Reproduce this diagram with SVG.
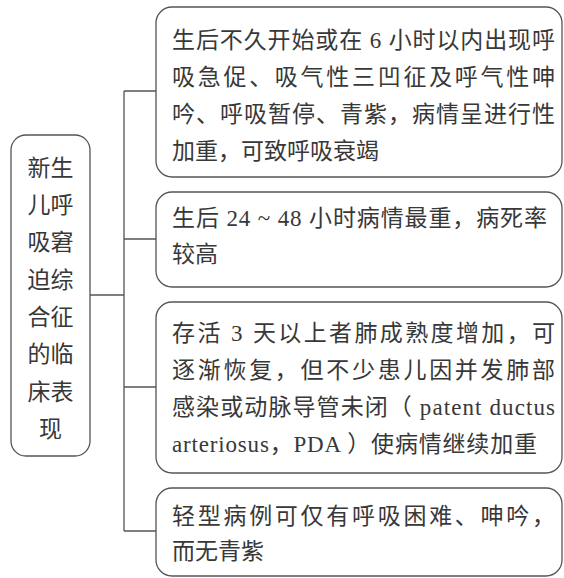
<svg xmlns="http://www.w3.org/2000/svg" width="564" height="578" viewBox="0 0 564 578">
<style>
.box{fill:#ffffff;stroke:#555555;stroke-width:1.3}
.ln{fill:none;stroke:#555555;stroke-width:1.3}
text{font-family:"Liberation Serif","Noto Sans CJK SC",serif;font-size:23px;fill:#383838}
.c{text-anchor:middle}
</style>
<rect width="564" height="578" fill="#ffffff"/>
<g id="connectors">
<path class="ln" d="M90,295 H124 M124,91 V531 M124,91 H156 M124,239 H156 M124,387 H156 M124,531 H156"/>
</g>
<g id="root">
<rect class="box" x="11" y="135" width="79" height="321" rx="15"/>
<text class="c" x="50.5" y="176">新生</text>
<text class="c" x="50.5" y="213">儿呼</text>
<text class="c" x="50.5" y="250">吸窘</text>
<text class="c" x="50.5" y="288">迫综</text>
<text class="c" x="50.5" y="325">合征</text>
<text class="c" x="50.5" y="362">的临</text>
<text class="c" x="50.5" y="400">床表</text>
<text class="c" x="50.5" y="437">现</text>
</g>
<g id="node1">
<rect class="box" x="156" y="7" width="406" height="170" rx="16"/>
<text x="172" y="48" textLength="383" lengthAdjust="spacing">生后不久开始或在 6 小时以内出现呼</text>
<text x="172" y="85" textLength="383" lengthAdjust="spacing">吸急促、吸气性三凹征及呼气性呻</text>
<text x="172" y="122" textLength="383" lengthAdjust="spacing">吟、呼吸暂停、青紫，病情呈进行性</text>
<text x="172" y="159">加重，可致呼吸衰竭</text>
</g>
<g id="node2">
<rect class="box" x="156" y="192" width="406" height="95" rx="16"/>
<text x="172" y="226" textLength="375" lengthAdjust="spacing">生后 24 ~ 48 小时病情最重，病死率</text>
<text x="172" y="262">较高</text>
</g>
<g id="node3">
<rect class="box" x="156" y="302" width="406" height="171" rx="16"/>
<text x="172" y="341" textLength="383" lengthAdjust="spacing">存活 3 天以上者肺成熟度增加，可</text>
<text x="172" y="378" textLength="383" lengthAdjust="spacing">逐渐恢复，但不少患儿因并发肺部</text>
<text x="172" y="415" textLength="383" lengthAdjust="spacing">感染或动脉导管未闭（ patent ductus</text>
<text x="172" y="452" textLength="365" lengthAdjust="spacing">arteriosus，PDA ）使病情继续加重</text>
</g>
<g id="node4">
<rect class="box" x="156" y="488" width="406" height="88" rx="16"/>
<text x="172" y="524" textLength="383" lengthAdjust="spacing">轻型病例可仅有呼吸困难、呻吟，</text>
<text x="172" y="559">而无青紫</text>
</g>
</svg>
